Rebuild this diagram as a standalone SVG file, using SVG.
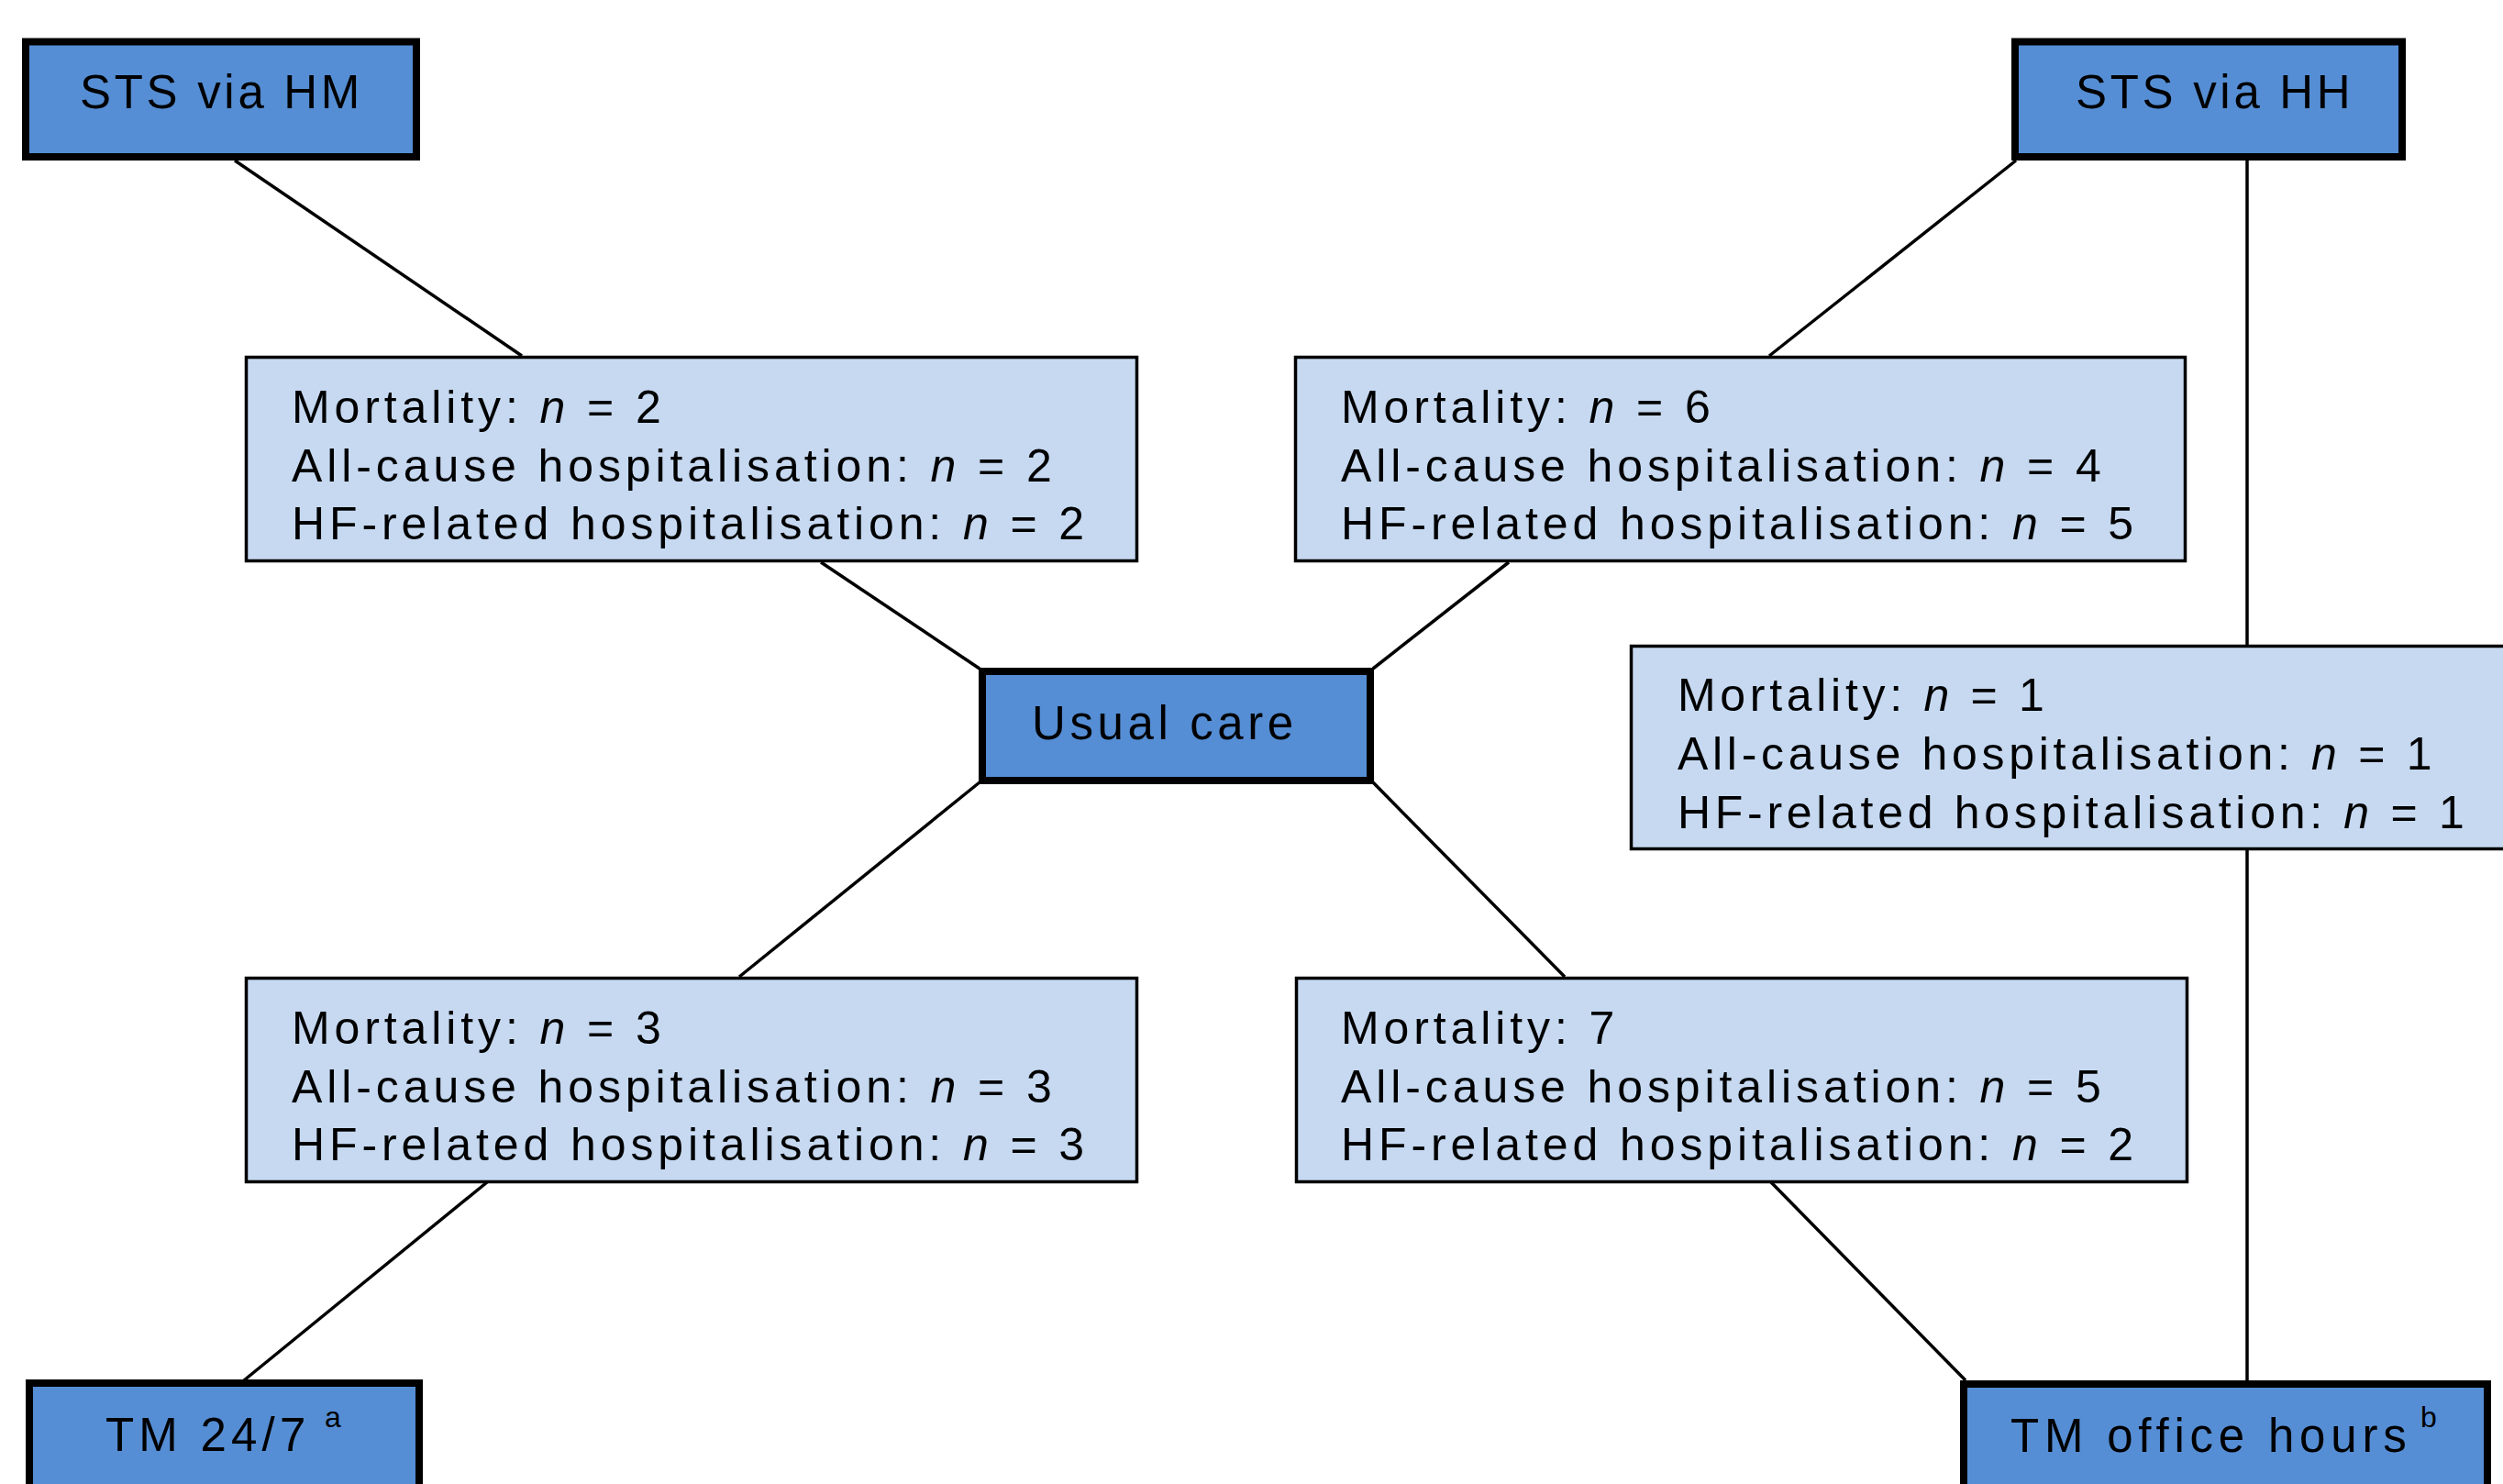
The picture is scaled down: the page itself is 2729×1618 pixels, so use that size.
<svg xmlns="http://www.w3.org/2000/svg" width="2729" height="1618" viewBox="0 0 2729 1618">
<style>
.dark{fill:#558ED5;stroke:#000;stroke-width:8}
.light{fill:#C6D9F1;stroke:#000;stroke-width:3.5}
text{font-family:"Liberation Sans",Arial,sans-serif;fill:#000}
.title{font-size:51px;letter-spacing:4.6px}
.body{font-size:50px;letter-spacing:4.9px}
.tight{letter-spacing:4.7px}
.sup{font-size:32px}
.i{font-style:italic}
#connectors line{stroke:#000;stroke-width:3.5;fill:none}
</style>
<rect width="2729" height="1618" fill="#fff"/>
<g id="connectors">
<line x1="256" y1="175" x2="569" y2="388"/>
<line x1="2198" y1="175" x2="1929" y2="388"/>
<line x1="2450" y1="175" x2="2450" y2="703"/>
<line x1="2450" y1="927" x2="2450" y2="1505"/>
<line x1="895" y1="613" x2="1068" y2="729"/>
<line x1="1645" y1="613" x2="1497" y2="729"/>
<line x1="1068" y1="853" x2="806" y2="1065"/>
<line x1="1497" y1="853" x2="1706" y2="1065"/>
<line x1="531" y1="1289" x2="266" y2="1505"/>
<line x1="1931" y1="1289" x2="2143" y2="1505"/>
</g>
<g id="sts-hm">
<rect class="dark" x="28" y="45.5" width="426" height="125.5"/>
<text class="title" x="87" y="118" style="letter-spacing:3.7px">STS via HM</text>
</g>
<g id="sts-hh">
<rect class="dark" x="2197" y="45.5" width="422" height="125.5"/>
<text class="title" x="2263" y="118" style="letter-spacing:3.7px">STS via HH</text>
</g>
<g id="usual-care">
<rect class="dark" x="1071" y="732" width="423" height="119"/>
<text class="title" x="1125" y="806">Usual care</text>
</g>
<g id="tm-247">
<rect class="dark" x="32" y="1508" width="425" height="130"/>
<text class="title" x="115" y="1582" style="letter-spacing:5.2px">TM 24/7</text>
<text class="sup" x="354" y="1556">a</text>
</g>
<g id="tm-office">
<rect class="dark" x="2141" y="1509" width="571" height="130"/>
<text class="title" x="2192" y="1583" style="letter-spacing:5.8px">TM office hours</text>
<text class="sup" x="2639" y="1556">b</text>
</g>
<g id="hm-vs-uc">
<rect class="light" x="268.5" y="389.5" width="971" height="222"/>
<text class="body" x="318" y="461">Mortality: <tspan class="i">n</tspan> = 2</text>
<text class="body" x="318" y="525">All-cause hospitalisation: <tspan class="i">n</tspan> = 2</text>
<text class="body" x="318" y="588">HF-related hospitalisation: <tspan class="i">n</tspan> = 2</text>
</g>
<g id="hh-vs-uc">
<rect class="light" x="1412.5" y="389.5" width="970" height="222"/>
<text class="body" x="1462" y="461">Mortality: <tspan class="i">n</tspan> = 6</text>
<text class="body" x="1462" y="525">All-cause hospitalisation: <tspan class="i">n</tspan> = 4</text>
<text class="body" x="1462" y="588">HF-related hospitalisation: <tspan class="i">n</tspan> = 5</text>
</g>
<g id="hh-vs-office">
<rect class="light" x="1778.5" y="704.5" width="1000" height="221"/>
<text class="body tight" x="1829" y="775">Mortality: <tspan class="i">n</tspan> = 1</text>
<text class="body tight" x="1829" y="839">All-cause hospitalisation: <tspan class="i">n</tspan> = 1</text>
<text class="body tight" x="1829" y="903">HF-related hospitalisation: <tspan class="i">n</tspan> = 1</text>
</g>
<g id="tm247-vs-uc">
<rect class="light" x="268.5" y="1066.5" width="971" height="222"/>
<text class="body" x="318" y="1138">Mortality: <tspan class="i">n</tspan> = 3</text>
<text class="body" x="318" y="1202">All-cause hospitalisation: <tspan class="i">n</tspan> = 3</text>
<text class="body" x="318" y="1265">HF-related hospitalisation: <tspan class="i">n</tspan> = 3</text>
</g>
<g id="office-vs-uc">
<rect class="light" x="1413.5" y="1066.5" width="971" height="222"/>
<text class="body" x="1462" y="1138">Mortality: 7</text>
<text class="body" x="1462" y="1202">All-cause hospitalisation: <tspan class="i">n</tspan> = 5</text>
<text class="body" x="1462" y="1265">HF-related hospitalisation: <tspan class="i">n</tspan> = 2</text>
</g>
</svg>
